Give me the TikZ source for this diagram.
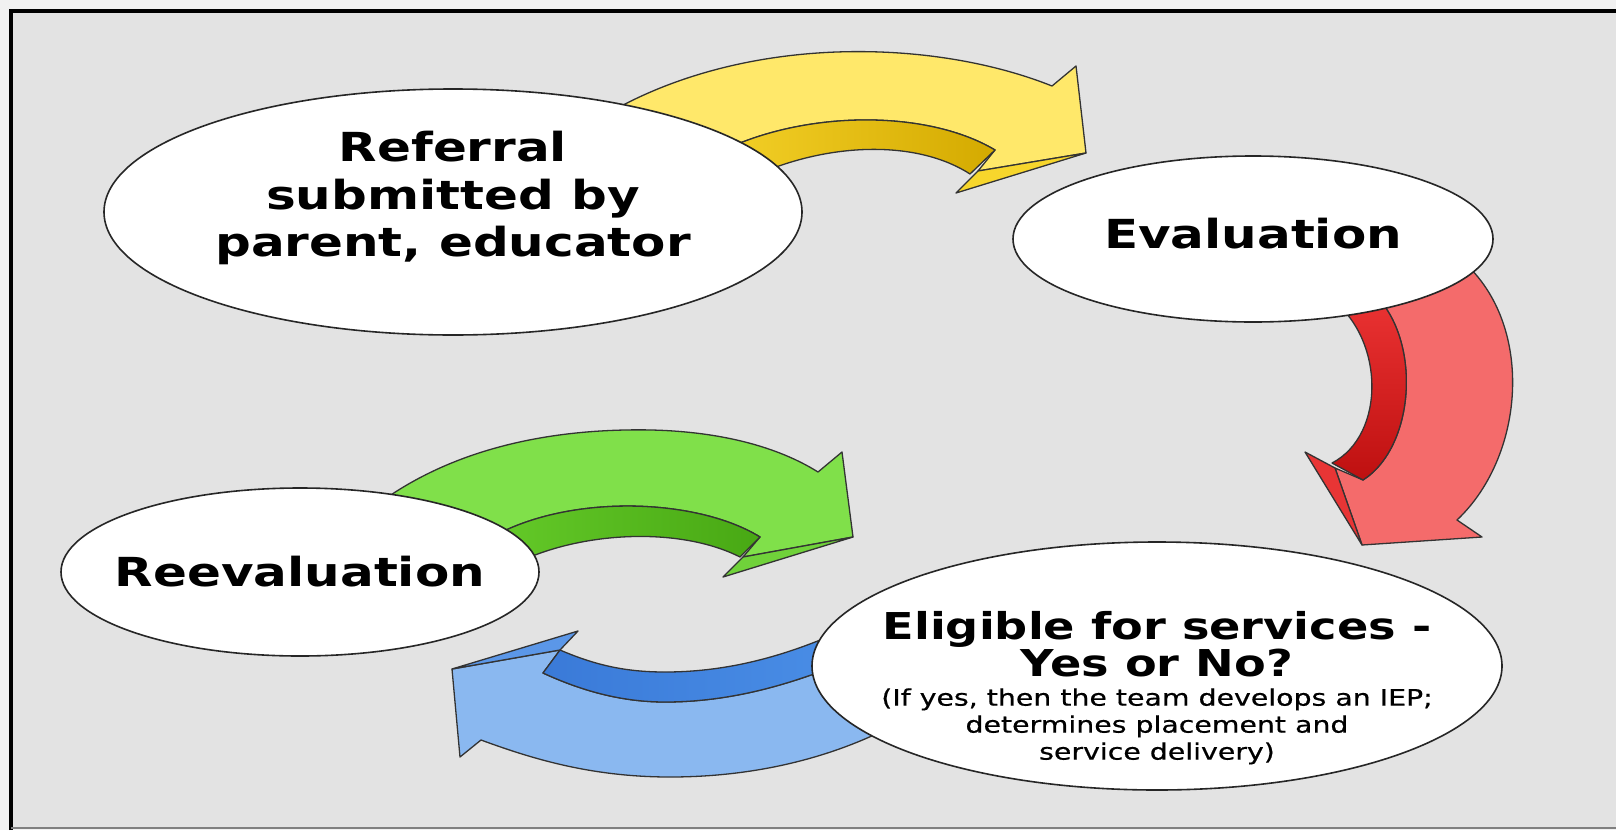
\documentclass[tikz,border=0pt]{standalone}
\usepackage{fontspec}
\setmainfont{DejaVu Sans}[FakeStretch=1.25]
\newfontfamily\notefont{DejaVu Sans}[FakeStretch=1.25,FakeBold=0.6]
\usetikzlibrary{shapes.geometric}

\definecolor{pagegray}{HTML}{F1F1F1}
\definecolor{panelgray}{HTML}{E3E3E3}
\definecolor{yface}{HTML}{FFE86A}
\definecolor{yband}{HTML}{F5D22A}
\definecolor{ybandd}{HTML}{D4AA00}
\definecolor{yside}{HTML}{F7D62C}
\definecolor{rface}{HTML}{F46B6B}
\definecolor{rband}{HTML}{EC3434}
\definecolor{rbandd}{HTML}{BE1010}
\definecolor{rside}{HTML}{E83535}
\definecolor{gface}{HTML}{80E04A}
\definecolor{gband}{HTML}{66CC2A}
\definecolor{gbandd}{HTML}{48A814}
\definecolor{gside}{HTML}{70D23A}
\definecolor{bface}{HTML}{8AB8F0}
\definecolor{bband}{HTML}{3A7AD8}
\definecolor{bbandd}{HTML}{4A8EE6}
\definecolor{bside}{HTML}{5B97E8}

\newcommand{\bigtext}{\fontsize{40}{47.5}\selectfont\bfseries}
\newcommand{\eligtext}{\fontsize{37}{37}\selectfont\bfseries}
\newcommand{\notetext}{\notefont\fontsize{22.7}{25}\selectfont\mdseries}

\begin{document}
\begin{tikzpicture}[x=1pt,y=-1pt,
    bubble/.style={ellipse,draw=black!85,line width=1.6pt,fill=white,
      inner xsep=-100pt,inner ysep=-15pt,align=center,font=\bigtext},
    face/.style={draw=black!80,line width=1.3pt,line join=round,fill=#1},
    band/.style={draw=black!80,line width=1.3pt,line join=round}
  ]
  \useasboundingbox (0,0) rectangle (1616,830);
  % frame
  \fill[pagegray] (0,0) rectangle (1616,830);
  \fill[panelgray] (11,11) rectangle (1616,828);
  \draw[line width=3.5pt] (11,830) -- (11,11) -- (1616,11);
  \draw[gray,line width=2pt] (11,828) -- (1616,828);

  % yellow arrow
  \path[face=yface] (600,118) .. controls (740,33) and (932,38) .. (1052,86)
    -- (1076,66) -- (1086,153) -- (978,171)
    -- (995,150) .. controls (923,107) and (790,110) .. (705,160) -- cycle;
  \path[band,left color=yband,right color=ybandd]
    (705,160) .. controls (790,110) and (923,107) .. (995,150)
    -- (970,174) .. controls (911,136) and (810,143) .. (730,188) -- cycle;
  \path[face=yside] (1086,153) -- (956,193) -- (978,171) -- cycle;

  % red arrow
  \path[face=rface] (1455,255) .. controls (1535,315) and (1528,453) .. (1457,520)
    -- (1482,537) -- (1362,545) -- (1335,468)
    -- (1363,480) .. controls (1416,446) and (1422,337) .. (1372,292) -- cycle;
  \path[band,top color=rband,bottom color=rbandd]
    (1372,292) .. controls (1422,337) and (1416,446) .. (1363,480)
    -- (1332,463) .. controls (1386,435) and (1385,338) .. (1330,298) -- cycle;
  \path[face=rside] (1362,545) -- (1305,452) -- (1335,468) -- cycle;

  % green arrow
  \path[face=gface] (370,510) .. controls (440,455) and (530,432) .. (625,430)
    .. controls (710,428) and (775,445) .. (818,472)
    -- (842,452) -- (853,537) -- (743,557)
    -- (760,537) .. controls (692,495) and (550,493) .. (475,548) -- cycle;
  \path[band,left color=gband,right color=gbandd]
    (475,548) .. controls (550,493) and (692,495) .. (760,537)
    -- (740,557) .. controls (675,524) and (565,532) .. (500,572) -- cycle;
  \path[face=gside] (853,537) -- (723,577) -- (743,557) -- cycle;

  % blue arrow
  \path[face=bface] (900,722) .. controls (830,760) and (750,777) .. (670,777)
    .. controls (590,777) and (530,758) .. (481,740)
    -- (460,757) -- (452,669) -- (560,650)
    -- (543,673) .. controls (580,690) and (620,702) .. (665,702)
    .. controls (730,702) and (790,685) .. (850,660) -- cycle;
  \path[band,left color=bband,right color=bbandd]
    (543,673) .. controls (580,690) and (620,702) .. (665,702)
    .. controls (730,702) and (790,685) .. (850,660)
    -- (850,627) .. controls (790,655) and (730,672) .. (665,672)
    .. controls (625,672) and (595,665) .. (560,650) -- cycle;
  \path[face=bside] (452,669) -- (578,631) -- (560,650) -- cycle;

  % steps
  \node[bubble,minimum width=698pt,minimum height=246pt] (referral) at (453,212)
    {Referral\\ submitted by\\ parent, educator\rule[-36pt]{0pt}{0pt}};
  \node[bubble,minimum width=480pt,minimum height=166pt] (evaluation) at (1253,239)
    {Evaluation\rule[-12pt]{0pt}{0pt}};
  \node[bubble,minimum width=478pt,minimum height=168pt] (reeval) at (300,572)
    {Reevaluation};
  \node[bubble,font=\eligtext,inner ysep=-40pt,minimum width=690pt,minimum height=248pt] (eligible) at (1157,666)
    {\eligtext\rule{0pt}{72pt}Eligible for services -\\
     \eligtext Yes or No?\\[-8pt]
     \notetext (If yes, then the team develops an IEP;\\[-10pt]
     \notetext determines placement and\\[-10pt]
     \notetext service delivery)};
\end{tikzpicture}
\end{document}
